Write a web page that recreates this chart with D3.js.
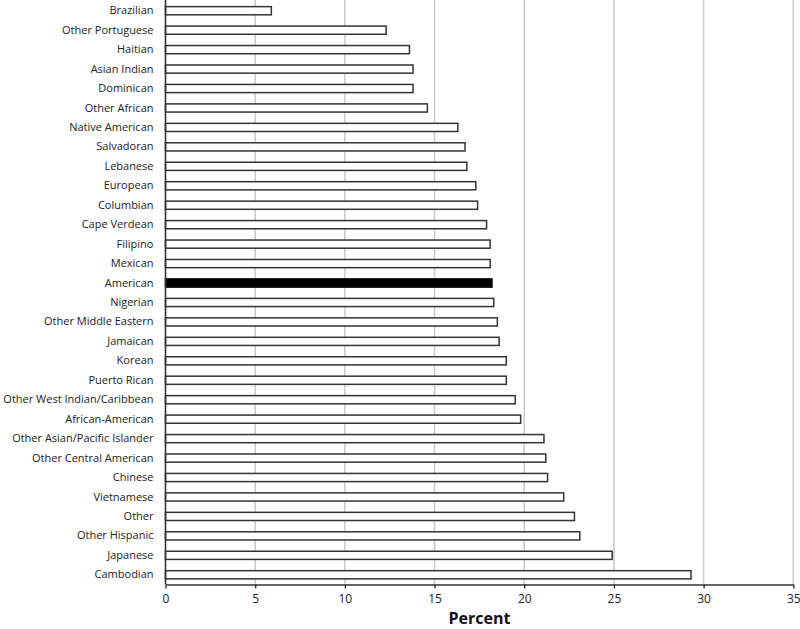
<!DOCTYPE html>
<html><head><meta charset="utf-8">
<script src="https://cdn.jsdelivr.net/npm/d3@7"></script>
<style>body{margin:0;background:#fff}svg{display:block}</style>
</head><body>
<svg id="c" width="800" height="629"></svg>
<script>
const categories = ["Brazilian","Other Portuguese","Haitian","Asian Indian","Dominican","Other African","Native American","Salvadoran","Lebanese","European","Columbian","Cape Verdean","Filipino","Mexican","American","Nigerian","Other Middle Eastern","Jamaican","Korean","Puerto Rican","Other West Indian/Caribbean","African-American","Other Asian/Pacific Islander","Other Central American","Chinese","Vietnamese","Other","Other Hispanic","Japanese","Cambodian"];
const values = [5.9,12.3,13.6,13.8,13.8,14.6,16.3,16.7,16.8,17.3,17.4,17.9,18.1,18.1,18.2,18.3,18.5,18.6,19.0,19.0,19.5,19.8,21.1,21.2,21.3,22.2,22.8,23.1,24.9,29.3];
const highlight = ["American"];
const xTicks = [0,5,10,15,20,25,30,35];
const xTitle = "Percent";

(function(){
const svg = d3.select("#c");
const mLeft = 165.5, mRight = 793.3, mTop = 1, mBottom = 584.5;
const x = d3.scaleLinear().domain([0,35]).range([mLeft,mRight]);
const y = d3.scaleBand().domain(categories).range([mTop,mBottom]).paddingInner(0.58).paddingOuter(0.29);
const font = "'Open Sans', 'DejaVu Sans', sans-serif";

// gridlines
svg.append("g").selectAll("line").data(xTicks.filter(d=>d>0)).join("line")
  .attr("x1",d=>x(d)).attr("x2",d=>x(d)).attr("y1",0).attr("y2",mBottom)
  .attr("stroke","#cccccc").attr("stroke-width",1.6);

// bars
const data = categories.map((c,i)=>({c,v:values[i]}));
svg.append("g").selectAll("rect").data(data).join("rect")
  .attr("x",x(0)).attr("y",d=>y(d.c))
  .attr("width",d=>x(d.v)-x(0)).attr("height",y.bandwidth())
  .attr("fill",d=>highlight.includes(d.c)?"#000":"#fff")
  .attr("stroke",d=>highlight.includes(d.c)?"#000":"#333").attr("stroke-width",1.5);

// x axis
const xa = svg.append("g").attr("transform",`translate(0,${mBottom})`)
  .call(d3.axisBottom(x).tickValues(xTicks).tickSize(4).tickPadding(6).tickSizeOuter(0));
xa.select(".domain").attr("stroke","#333").attr("stroke-width",1.6);
xa.selectAll(".tick line").attr("stroke","#333").attr("stroke-width",1.4);
xa.selectAll(".tick text").attr("font-family",font).attr("font-size",12).attr("fill","#222");

// y axis
const ya = svg.append("g").attr("transform",`translate(${mLeft},0)`)
  .call(d3.axisLeft(y).tickSize(0).tickPadding(12));
ya.select(".domain").attr("stroke","#333").attr("stroke-width",1.6).attr("d",`M0,0V${mBottom}`);
ya.selectAll(".tick text").attr("font-family",font).attr("font-size",11).attr("fill","#222");

svg.append("text").attr("x",(mLeft+mRight)/2).attr("y",624).attr("text-anchor","middle")
  .attr("font-family",font).attr("font-weight","bold").attr("font-size",16).attr("fill","#111").text(xTitle);
})();
</script>
</body></html>
